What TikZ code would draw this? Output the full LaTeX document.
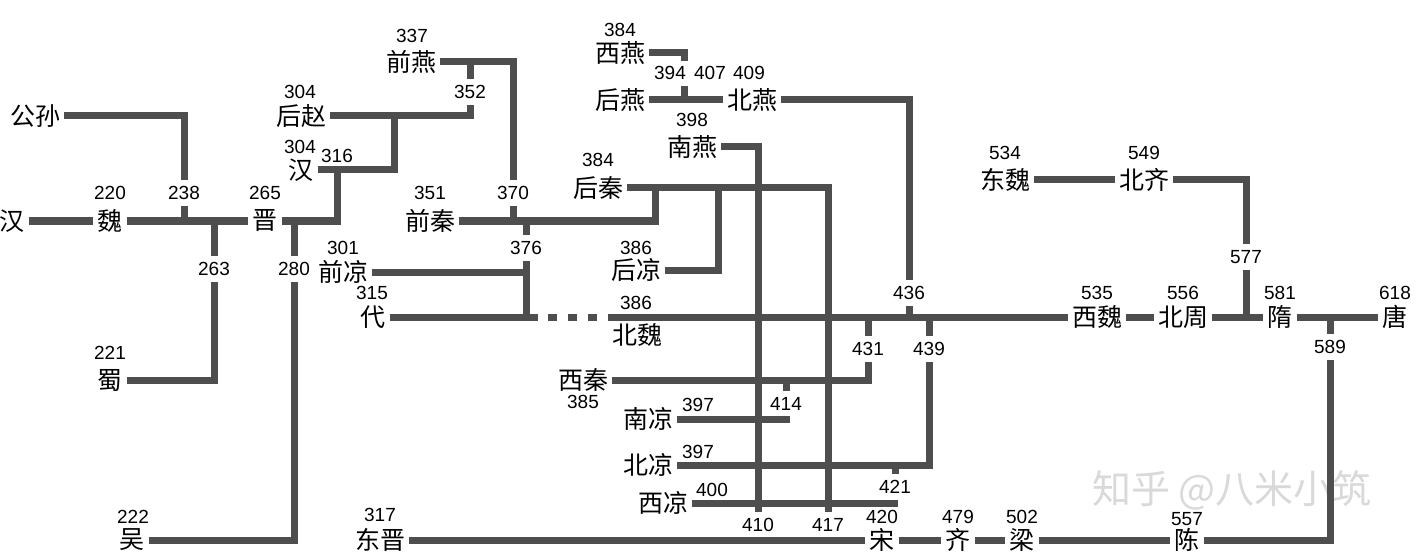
\documentclass[tikz,border=0pt]{standalone}
\usepackage{fontspec}
\setmainfont{Liberation Sans}
\newfontfamily\cjk{Noto Sans CJK SC}
\usetikzlibrary{calc}
\definecolor{lineGray}{RGB}{78,78,78}

\begin{document}
\begin{tikzpicture}[x=1pt, y=-1pt,
  st/.style={font=\cjk\fontsize{25}{25}\selectfont, inner xsep=4pt, inner ysep=2pt},
  yr/.style={font=\fontsize{19}{19}\selectfont, inner xsep=1pt, inner ysep=6pt},
  ln/.style={draw=lineGray, line width=7pt},
  wm/.style={font=\cjk\fontsize{39}{39}\selectfont, text=gray!30, inner sep=0pt}]

  \useasboundingbox (0,0) rectangle (1421,556);
  \node[wm] (zhihu) at (1232,490) {知乎 @八米小筑};

  % states
  \node[st] (han1)      at (12,221)   {汉};
  \node[st] (wei)       at (110,221)  {魏};
  \node[st] (jin)       at (265,221)  {晋};
  \node[st] (gongsun)   at (35,116)   {公孙};
  \node[st] (shu)       at (110,380)  {蜀};
  \node[st] (wu)        at (132,540)  {吴};
  \node[st] (houzhao)   at (301,116)  {后赵};
  \node[st] (han2)      at (301,170)  {汉};
  \node[st] (qianyan)   at (411,62)   {前燕};
  \node[st] (qianqin)   at (430,221)  {前秦};
  \node[st] (qianliang) at (343,272)  {前凉};
  \node[st] (dai)       at (373,317)  {代};
  \node[st] (beiwei)    at (637,335)  {北魏};
  \node[st] (houqin)    at (598,188)  {后秦};
  \node[st] (houliang)  at (636,270)  {后凉};
  \node[st] (xiyan)     at (620,53)   {西燕};
  \node[st] (houyan)    at (620,100)  {后燕};
  \node[st] (beiyan)    at (752,100)  {北燕};
  \node[st] (nanyan)    at (692,147)  {南燕};
  \node[st] (xiqin)     at (583,380)  {西秦};
  \node[st] (nanliang)  at (648,419)  {南凉};
  \node[st] (beiliang)  at (648,465)  {北凉};
  \node[st] (xiliang)   at (663,503)  {西凉};
  \node[st] (dongjin)   at (380,540)  {东晋};
  \node[st] (song)      at (882,540)  {宋};
  \node[st] (qi)        at (958,540)  {齐};
  \node[st] (liang)     at (1022,540) {梁};
  \node[st] (chen)      at (1187,540) {陈};
  \node[st] (dongwei)   at (1005,180) {东魏};
  \node[st] (beiqi)     at (1144,180) {北齐};
  \node[st] (xiwei)     at (1097,317) {西魏};
  \node[st] (beizhou)   at (1183,317) {北周};
  \node[st] (sui)       at (1280,317) {隋};
  \node[st] (tang)      at (1395,317) {唐};

  % years
  \node[yr] (y220)  at (110,193)  {220};
  \node[yr] (y238)  at (184,193)  {238};
  \node[yr] (y265)  at (265,193)  {265};
  \node[yr] (y263)  at (214,269)  {263};
  \node[yr] (y280)  at (294,269)  {280};
  \node[yr] (y221)  at (110,353)  {221};
  \node[yr] (y222)  at (133,517)  {222};
  \node[yr] (y304a) at (300,92)   {304};
  \node[yr] (y304b) at (300,147)  {304};
  \node[yr] (y316)  at (337,156)  {316};
  \node[yr] (y337)  at (412,36)   {337};
  \node[yr] (y352)  at (470,92)   {352};
  \node[yr] (y351)  at (430,193)  {351};
  \node[yr] (y370)  at (513,193)  {370};
  \node[yr] (y376)  at (526,248)  {376};
  \node[yr] (y301)  at (343,248)  {301};
  \node[yr] (y315)  at (372,293)  {315};
  \node[yr] (y384a) at (598,160)  {384};
  \node[yr] (y386a) at (636,248)  {386};
  \node[yr] (y386b) at (636,303)  {386};
  \node[yr] (y384b) at (620,30)   {384};
  \node[yr] (y394)  at (670,73)   {394};
  \node[yr] (y407)  at (710,73)   {407};
  \node[yr] (y409)  at (749,73)   {409};
  \node[yr] (y398)  at (692,120)  {398};
  \node[yr] (y436)  at (909,293)  {436};
  \node[yr] (y431)  at (868,349)  {431};
  \node[yr] (y439)  at (929,349)  {439};
  \node[yr] (y385)  at (583,402)  {385};
  \node[yr] (y397a) at (698,405)  {397};
  \node[yr] (y414)  at (786,404)  {414};
  \node[yr] (y397b) at (698,452)  {397};
  \node[yr] (y421)  at (895,487)  {421};
  \node[yr] (y400)  at (712,490)  {400};
  \node[yr] (y410)  at (758,525)  {410};
  \node[yr] (y417)  at (828,525)  {417};
  \node[yr] (y420)  at (882,517)  {420};
  \node[yr] (y317)  at (380,515)  {317};
  \node[yr] (y479)  at (958,517)  {479};
  \node[yr] (y502)  at (1022,517) {502};
  \node[yr] (y557)  at (1187,519) {557};
  \node[yr] (y534)  at (1005,153) {534};
  \node[yr] (y549)  at (1144,153) {549};
  \node[yr] (y577)  at (1246,257) {577};
  \node[yr] (y535)  at (1097,293) {535};
  \node[yr] (y556)  at (1183,293) {556};
  \node[yr] (y581)  at (1280,293) {581};
  \node[yr] (y618)  at (1395,293) {618};
  \node[yr] (y589)  at (1330,347) {589};

  % junctions
  \coordinate (c316)  at (337,170);
  \coordinate (c304)  at (394,116);
  \coordinate (c384)  at (655,188);
  \coordinate (c386)  at (718,188);
  \coordinate (c394a) at (684,61);
  \coordinate (c394b) at (684,86);
  \coordinate (c414)  at (790,419);
  \coordinate (c421)  at (898,503);
  \coordinate (cd1)   at (538,317);
  \coordinate (cd2)   at (608,317);

  \foreach \a/\b in {han1/wei, wei/jin, houyan/beiyan, dongwei/beiqi,
                     xiwei/beizhou, beizhou/sui, sui/tang,
                     dongjin/song, song/qi, qi/liang, liang/chen,
                     dai/cd1, cd2/xiwei, nanliang/c414, xiliang/c421}
    \draw[ln] (\a) -- (\b);

  \foreach \y/\s in {y238/wei, y263/wei, y280/jin, y352/qianyan, y370/qianqin,
                     y376/qianqin, y376/dai, y436/xiwei, y431/xiwei, y439/xiwei,
                     y577/sui, y589/tang, y414/xiqin, y421/beiliang, c394b/houyan}
    \draw[ln] (\y) -- (\y |- \s);

  \draw[ln] (gongsun) -| (y238);
  \draw[ln] (y263) |- (shu);
  \draw[ln] (y280) |- (wu);
  \draw[ln] (jin) -| (c316);
  \draw[ln] (han2) -| (c304);
  \draw[ln] (houzhao) -| (y352);
  \draw[ln] (qianyan) -| (y370);
  \draw[ln] (qianqin) -| (c384);
  \draw[ln] (houqin) -| (y417);
  \draw[ln] (houliang) -| (c386);
  \draw[ln] (qianliang) -- (qianliang -| y376);
  \draw[ln, dash pattern=on 9pt off 11pt, dash phase=10pt] (cd1) -- (cd2);
  \draw[ln] (xiyan) -| (c394a);
  \draw[ln] (beiyan) -| (y436);
  \draw[ln] (nanyan) -| (y410);
  \draw[ln] (xiqin) -| (y431);
  \draw[ln] (beiliang) -| (y439);
  \draw[ln] (beiqi) -| (y577);
  \draw[ln] (y589) |- (chen);

\end{tikzpicture}
\end{document}
